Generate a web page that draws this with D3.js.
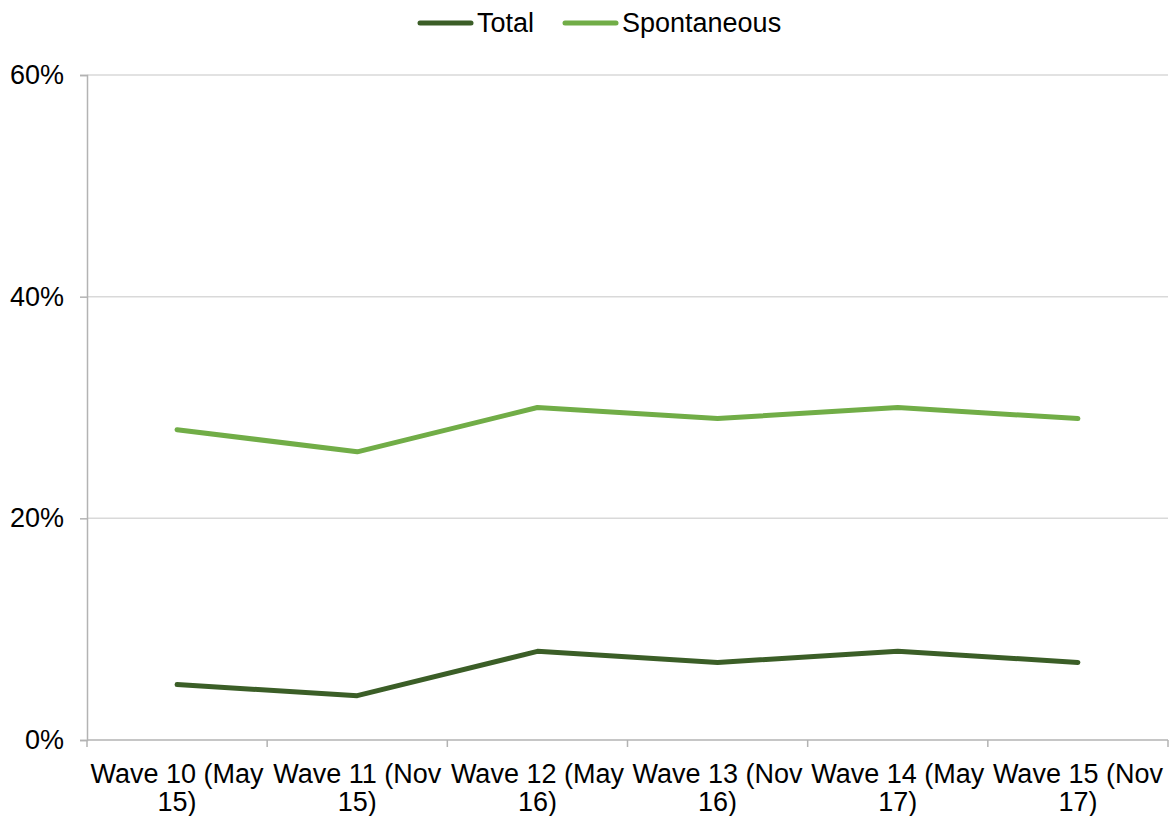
<!DOCTYPE html>
<html>
<head>
<meta charset="utf-8">
<script src="https://cdn.jsdelivr.net/npm/d3@7"></script>
<style>
  html, body { margin: 0; padding: 0; background: #fff; }
  svg { display: block; font-family: "Liberation Sans", Arial, sans-serif; }
</style>
</head>
<body>
<svg id="chart" width="1173" height="816"></svg>
<script>
// Survey waves and the share of respondents for each measure
const categories = [
  ["Wave 10 (May", "15)"],
  ["Wave 11 (Nov", "15)"],
  ["Wave 12 (May", "16)"],
  ["Wave 13 (Nov", "16)"],
  ["Wave 14 (May", "17)"],
  ["Wave 15 (Nov", "17)"]
];
const totalValues = [0.05, 0.04, 0.08, 0.07, 0.08, 0.07];
const spontaneousValues = [0.28, 0.26, 0.30, 0.29, 0.30, 0.29];
const majorTicks = [0, 0.2, 0.4, 0.6];
const minorTicks = d3.range(0, 0.6001, 0.04);

const series = [
  { name: "Total", values: totalValues, color: "#3b5e27" },
  { name: "Spontaneous", values: spontaneousValues, color: "#71ad47" }
];

const svg = d3.select("#chart");
const margin = { left: 87, right: 5, top: 75, bottom: 76 };
const W = 1173, H = 816;
const fontSize = 27;

const x = d3.scaleBand()
  .domain(d3.range(categories.length))
  .range([margin.left, W - margin.right]);
const y = d3.scaleLinear().domain([0, 0.6]).range([H - margin.bottom, margin.top]);

const axisColor = "#b3b3b3";
const gridColor = "#d9d9d9";

// Horizontal gridlines at the major ticks
svg.append("g").selectAll("line").data(majorTicks.filter(d => d > 0)).join("line")
  .attr("x1", margin.left).attr("x2", W - margin.right)
  .attr("y1", d => y(d)).attr("y2", d => y(d))
  .attr("stroke", gridColor).attr("stroke-width", 1.5);

// Y axis: minor ticks, then major ticks with labels
const yAxisG = svg.append("g").attr("transform", `translate(${margin.left},0)`);
yAxisG.call(d3.axisLeft(y).tickValues(minorTicks).tickSize(6).tickFormat(""))
  .call(g => g.select(".domain").remove());
yAxisG.call(d3.axisLeft(y).tickValues(majorTicks).tickSize(7).tickPadding(16)
    .tickFormat(d3.format(".0%")))
  .call(g => g.select(".domain").attr("stroke", axisColor).attr("stroke-width", 1.5));
yAxisG.attr("font-size", fontSize).attr("font-family", "Liberation Sans, Arial, sans-serif");
yAxisG.selectAll("line").attr("stroke", axisColor).attr("stroke-width", 1.5);
yAxisG.selectAll("text").attr("fill", "#000");

// X axis with ticks at category boundaries
const xAxisG = svg.append("g").attr("transform", `translate(0,${y(0)})`);
const boundaries = d3.range(categories.length + 1).map(i =>
  i < categories.length ? x(i) : x(categories.length - 1) + x.bandwidth());
xAxisG.append("line")
  .attr("x1", margin.left).attr("x2", W - margin.right)
  .attr("stroke", axisColor).attr("stroke-width", 1.5);
xAxisG.selectAll("line.tick").data(boundaries).join("line")
  .attr("class", "tick")
  .attr("x1", d => d).attr("x2", d => d).attr("y1", 0).attr("y2", 7)
  .attr("stroke", axisColor).attr("stroke-width", 1.5);
const labels = xAxisG.selectAll("text").data(categories).join("text")
  .attr("text-anchor", "middle")
  .attr("font-size", fontSize).attr("fill", "#000")
  .attr("transform", (d, i) => `translate(${x(i) + x.bandwidth() / 2},0)`);
labels.selectAll("tspan").data(d => d).join("tspan")
  .attr("x", 0).attr("y", (d, i) => 43 + i * 28)
  .text(d => d);

// Series lines
const line = d3.line()
  .x((d, i) => x(i) + x.bandwidth() / 2)
  .y(d => y(d));
svg.append("g").selectAll("path").data(series).join("path")
  .attr("d", s => line(s.values))
  .attr("fill", "none")
  .attr("stroke", s => s.color)
  .attr("stroke-width", 5)
  .attr("stroke-linejoin", "round")
  .attr("stroke-linecap", "round");

// Legend
const legendItems = [
  { s: series[0], x: 420 },
  { s: series[1], x: 565 }
];
const lg = svg.append("g");
legendItems.forEach(item => {
  lg.append("line")
    .attr("x1", item.x).attr("x2", item.x + 51)
    .attr("y1", 23).attr("y2", 23)
    .attr("stroke", item.s.color).attr("stroke-width", 5)
    .attr("stroke-linecap", "round");
  lg.append("text")
    .attr("x", item.x + 57).attr("y", 32)
    .attr("font-size", fontSize).attr("fill", "#000")
    .text(item.s.name);
});
</script>
</body>
</html>
